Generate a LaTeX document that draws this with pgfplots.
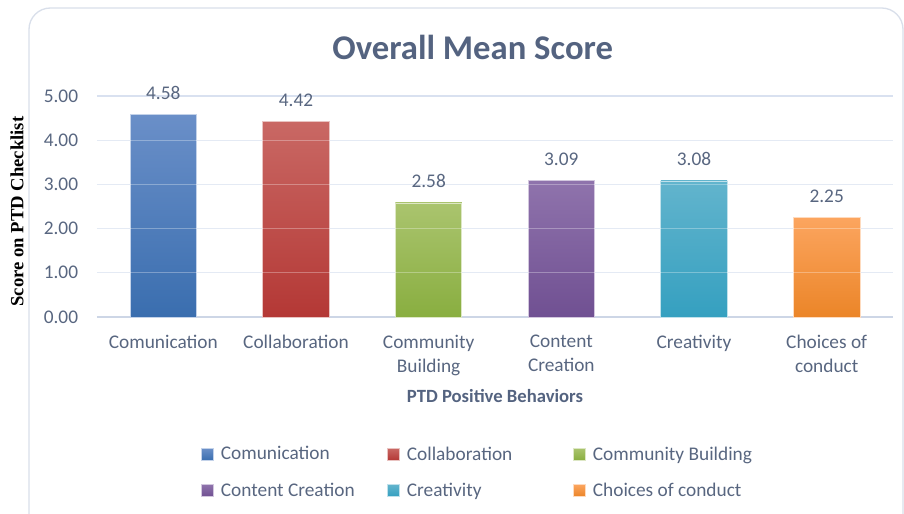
\documentclass[border=0pt]{standalone}
\usepackage{pgfplots}
\pgfplotsset{compat=1.18}
\usepackage{fontspec}
\setmainfont{Carlito}
\newfontfamily\timesfont{Liberation Serif}
\definecolor{titlecol}{RGB}{84,99,128}
\definecolor{txtcol}{RGB}{88,102,128}
\definecolor{gridcol}{RGB}{217,225,240}
\definecolor{axcol}{RGB}{205,214,230}
\definecolor{framecol}{RGB}{217,223,234}
\definecolor{bluT}{RGB}{106,143,200}\definecolor{bluB}{RGB}{58,110,175}
\definecolor{redT}{RGB}{201,104,100}\definecolor{redB}{RGB}{180,56,53}
\definecolor{grnT}{RGB}{170,196,110}\definecolor{grnB}{RGB}{137,174,64}
\definecolor{purT}{RGB}{143,115,172}\definecolor{purB}{RGB}{112,80,146}
\definecolor{tealT}{RGB}{98,180,205}\definecolor{tealB}{RGB}{53,160,192}
\definecolor{orgT}{RGB}{252,165,95}\definecolor{orgB}{RGB}{235,133,40}
\begin{document}
\begin{tikzpicture}[x=0.75pt,y=0.75pt]
\begin{axis}[
  name=ax,
  scale only axis, width=597pt, height=165.75pt,
  ybar, bar width=0.5,
  xmin=-0.5, xmax=5.5, ymin=0, ymax=5,
  clip=false,
  xtick={0,...,5},
  xticklabels={Comunication, Collaboration, {Community\\Building}, {Content\\Creation}, Creativity, {Choices of\\conduct}},
  ytick={0,...,5},
  major tick length=0pt,
  yticklabel={\pgfmathprintnumber[fixed,fixed zerofill,precision=2,assume math mode=true]{\tick}},
  yticklabel style={anchor=east, inner sep=0pt, xshift=-14pt, font=\fontsize{14.5}{17}\selectfont, text=txtcol},
  xticklabel style={anchor=north, inner sep=0pt, yshift=-13.5pt, align=center, font=\fontsize{14.5}{18}\selectfont, text=txtcol},
  ymajorgrids, grid style={gridcol, line width=1pt},
  axis x line*=bottom, axis y line*=left,
  y axis line style={draw=none},
  x axis line style={-, draw=axcol, line width=1.5pt},
  title={Overall Mean Score},
  title style={at={(axis description cs:0.472,1.129)}, anchor=base, font=\fontsize{26}{30}\selectfont\bfseries, text=titlecol},
  xlabel={PTD Positive Behaviors},
  xlabel style={at={(axis description cs:0.5,-0.389)}, anchor=base, font=\fontsize{14}{17}\selectfont\bfseries, text=titlecol},
  ylabel={Score on PTD Checklist},
  ylabel style={at={(axis description cs:-0.1005,0.477)}, anchor=center, font=\timesfont\fontsize{14}{17}\selectfont\bfseries, text=black},
  nodes near coords={\pgfmathprintnumber[fixed,fixed zerofill,precision=2,assume math mode=true]{\pgfplotspointmeta}},
  every node near coord/.append style={anchor=south, inner sep=0pt, yshift=11pt, font=\fontsize{14.5}{17}\selectfont, text=txtcol},
  legend columns=3,
  legend image code/.code={\fill[#1] (0pt,-4.5pt) rectangle (9pt,4.5pt);},
  legend style={at={(axis description cs:0.481,-0.561)}, anchor=north, draw=none, fill=none,
    font=\fontsize{14.5}{17}\selectfont, text=txtcol, row sep=11.5pt, column sep=0pt,
    /tikz/every odd column/.append style={column sep=3.5pt}},
]
\addplot[bar shift=0pt, top color=bluT, bottom color=bluB, draw=white!60!bluT, line width=0.5pt] coordinates {(0,4.58)};
\addlegendentry{\makebox[122.5pt][l]{Comunication}}
\addplot[bar shift=0pt, top color=redT, bottom color=redB, draw=white!60!redT, line width=0.5pt] coordinates {(1,4.42)};
\addlegendentry{\makebox[122.5pt][l]{Collaboration}}
\addplot[bar shift=0pt, top color=grnT, bottom color=grnB, draw=white!60!grnT, line width=0.5pt] coordinates {(2,2.58)};
\addlegendentry{\makebox[122.5pt][l]{Community Building}}
\addplot[bar shift=0pt, top color=purT, bottom color=purB, draw=white!60!purT, line width=0.5pt] coordinates {(3,3.09)};
\addlegendentry{\makebox[122.5pt][l]{Content Creation}}
\addplot[bar shift=0pt, top color=tealT, bottom color=tealB, draw=white!60!tealT, line width=0.5pt] coordinates {(4,3.08)};
\addlegendentry{\makebox[122.5pt][l]{Creativity}}
\addplot[bar shift=0pt, top color=orgT, bottom color=orgB, draw=white!60!orgT, line width=0.5pt] coordinates {(5,2.25)};
\addlegendentry{\makebox[122.5pt][l]{Choices of conduct}}
\pgfplotsinvokeforeach{1,2,3,4}{\draw[white, opacity=0.3, line width=1pt] (axis cs:-0.5,#1) -- (axis cs:5.5,#1);}
\end{axis}
\draw[framecol, line width=1pt, rounded corners=16pt] ([shift={(-68,309)}]ax.south west) rectangle ([shift={(806,-237)}]ax.south west);
\pgfresetboundingbox
\path[use as bounding box] ([shift={(-97,-197)}]ax.south west) rectangle ([shift={(807,317)}]ax.south west);
\end{tikzpicture}
\end{document}
